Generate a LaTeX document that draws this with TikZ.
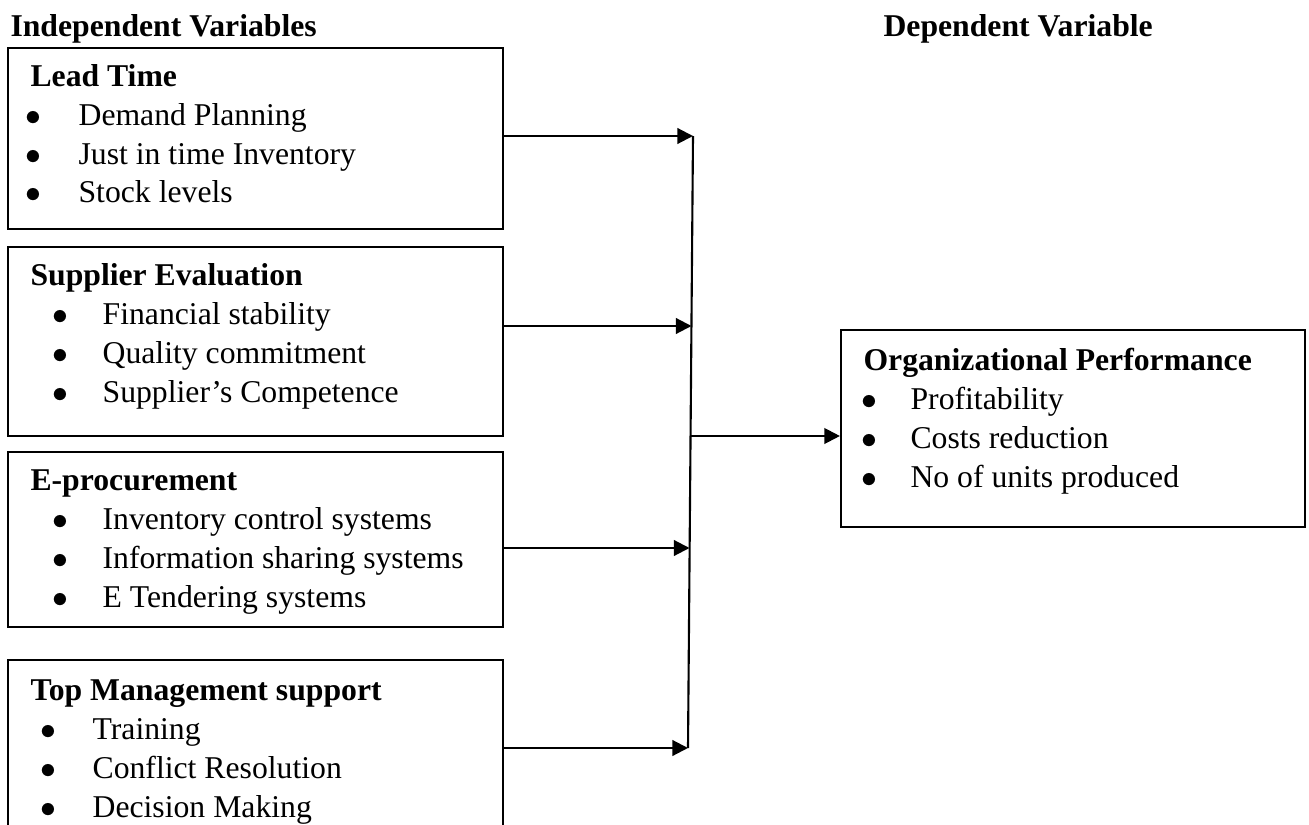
\documentclass[tikz,border=0pt]{standalone}
\usepackage{fontspec}
\setmainfont{Liberation Serif}
\usetikzlibrary{arrows.meta,positioning,fit}
\newcommand{\bul}[3]{\makebox[#2][l]{\hspace*{#1}$\bullet$}#3}

\begin{document}
\begin{tikzpicture}[x=0.3785pt,y=-0.3785pt,
  box/.style={draw,line width=0.8pt,inner sep=0pt},
  txt/.style={anchor=base west,inner sep=0pt,align=left,font=\fontsize{12}{14.65}\selectfont},
  hd/.style={anchor=base west,inner sep=0pt,font=\fontsize{12}{14.65}\selectfont\bfseries},
  arr/.style={-{Triangle[length=5.9pt,width=5.9pt]},line width=0.8pt}]
  \useasboundingbox (0,0) rectangle (1309,825);
  \clip (0,0) rectangle (1309,825);
  % headings
  \node[hd] (indep) at (10,37) {Independent Variables};
  \node[hd] (dep) at (883,37) {Dependent Variable};
  % boxes
  \node[box,fit={(8,48) (503,229)}] (lead) {};
  \node[box,fit={(8,247) (503,436)}] (supp) {};
  \node[box,fit={(8,452) (503,627)}] (eproc) {};
  \node[box,fit={(8,660) (503,880)}] (topm) {};
  \node[box,fit={(841,330) (1305,527)}] (perf) {};
  % box texts (placed at the baseline of the last line)
  \node[txt] (leadt) at (30,203) {\textbf{Lead Time}\\
    \bul{-1.9pt}{18.2pt}{Demand Planning}\\
    \bul{-1.9pt}{18.2pt}{Just in time Inventory}\\
    \bul{-1.9pt}{18.2pt}{Stock levels}};
  \node[txt] (suppt) at (30,402) {\textbf{Supplier Evaluation}\\
    \bul{8.3pt}{27.3pt}{Financial stability}\\
    \bul{8.3pt}{27.3pt}{Quality commitment}\\
    \bul{8.3pt}{27.3pt}{Supplier’s Competence}};
  \node[txt] (eproct) at (30,607) {\textbf{E-procurement}\\
    \bul{8.3pt}{27.3pt}{Inventory control systems}\\
    \bul{8.3pt}{27.3pt}{Information sharing systems}\\
    \bul{8.3pt}{27.3pt}{E Tendering systems}};
  \node[txt] (topmt) at (30,817) {\textbf{Top Management support}\\
    \bul{3.8pt}{23.5pt}{Training}\\
    \bul{3.8pt}{23.5pt}{Conflict Resolution}\\
    \bul{3.8pt}{23.5pt}{Decision Making}};
  \node[txt] (perft) at (863,487) {\textbf{Organizational Performance}\\
    \bul{-0.8pt}{17.8pt}{Profitability}\\
    \bul{-0.8pt}{17.8pt}{Costs reduction}\\
    \bul{-0.8pt}{17.8pt}{No of units produced}};
  % connectors
  \coordinate (j1) at (693,136);
  \coordinate (j2) at (691.5,326);
  \coordinate (j3) at (689.5,548);
  \coordinate (j4) at (688,748);
  \coordinate (jm) at (691,436);
  \draw[line width=0.8pt] (j1) -- (j4);
  \draw[arr] (lead.east |- j1) -- (j1);
  \draw[arr] (supp.east |- j2) -- (j2);
  \draw[arr] (eproc.east |- j3) -- (j3);
  \draw[arr] (topm.east |- j4) -- (j4);
  \draw[arr] (jm) -- (perf.west |- jm);
\end{tikzpicture}
\end{document}
